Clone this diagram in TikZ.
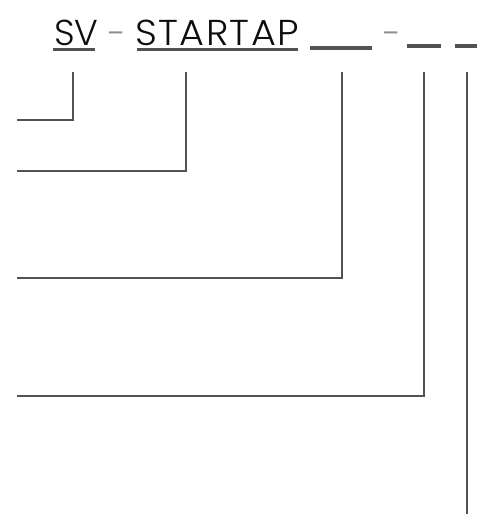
\documentclass[tikz,border=0pt]{standalone}
\usepackage{fontspec}
\setmainfont{Poppins Light}
\begin{document}
\begin{tikzpicture}[
    x=1pt, y=-1pt,
    part/.style={inner sep=0pt, anchor=base west, font=\fontsize{36}{40}\selectfont, text=black!95},
    sep/.style={inner sep=0pt, anchor=base west, font=\fontsize{34}{40}\selectfont, text=black!45},
    blank/.style={line width=3.6pt, draw=black!68},
    leader/.style={line width=2.6pt, draw=black!68}
]
    \useasboundingbox (0,0) rectangle (477,514);

    % code parts
    \node[part] (sv) at (54,45) {SV};
    \node[sep] (dashA) at (108,45) {-};
    \node[part] (startap) at (135,45) {\addfontfeature{FakeStretch=1.06,LetterSpace=4}STARTAP};
    \node[sep] (dashB) at (383,45) {-};

    % underlines and blanks
    \draw[blank] (53,49.5) -- (95,49.5);
    \draw[blank] (137,49.5) -- (298,49.5);
    \draw[blank] (310,48) -- (372,48);
    \draw[blank] (407,46) -- (441,46);
    \draw[blank] (455,46) -- (477,46);

    % leader lines
    \coordinate (topA) at (73,72);
    \coordinate (topB) at (186,72);
    \coordinate (topC) at (342,72);
    \coordinate (topD) at (424,72);
    \coordinate (topE) at (467,72);
    \coordinate (endA) at (17,120);
    \coordinate (endB) at (17,171);
    \coordinate (endC) at (17,278);
    \coordinate (endD) at (17,396);
    \coordinate (endE) at (467,514);

    \draw[leader] (topA) |- (endA);
    \draw[leader] (topB) |- (endB);
    \draw[leader] (topC) |- (endC);
    \draw[leader] (topD) |- (endD);
    \draw[leader] (topE) -- (endE);
\end{tikzpicture}
\end{document}
